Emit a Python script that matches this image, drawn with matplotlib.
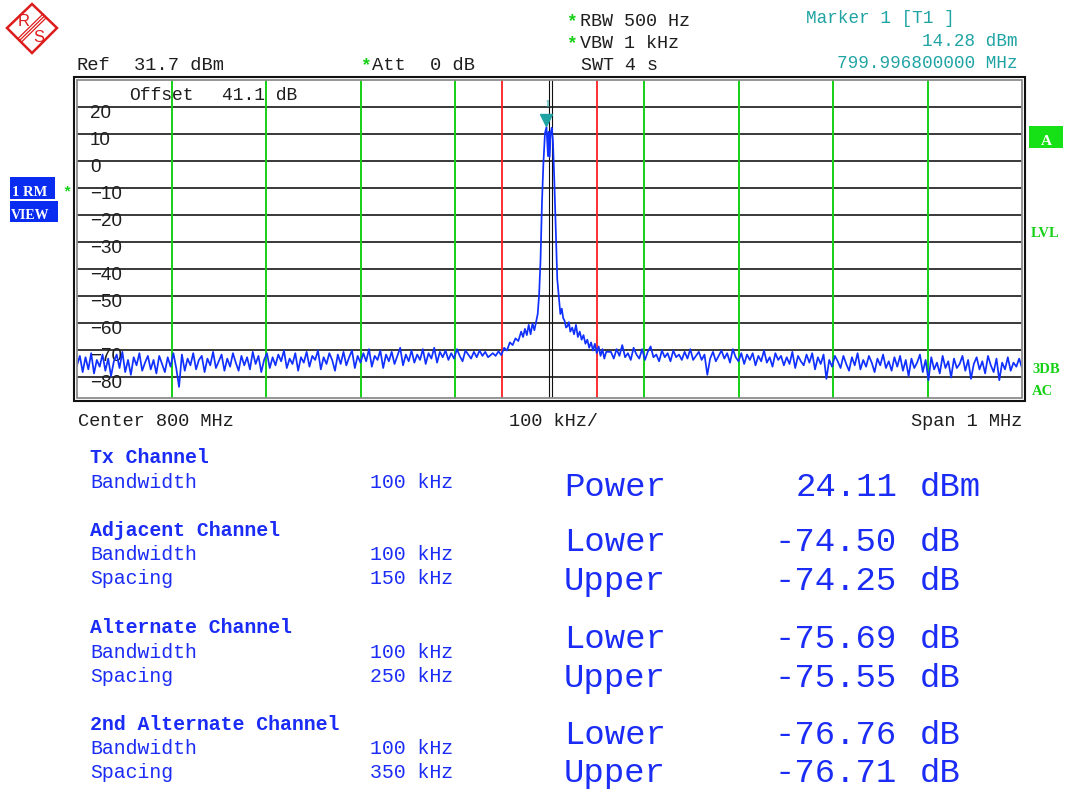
import matplotlib
matplotlib.use("Agg")
import matplotlib.pyplot as plt
import numpy as np
from matplotlib.patches import Rectangle, Polygon
from matplotlib.lines import Line2D
from matplotlib.transforms import offset_copy

W, H = 1067, 789

# -----------------------------------------------------------------------
# Analyzer settings / readings
# -----------------------------------------------------------------------
REF_LEVEL = 31.7          # dBm, top of screen
BOTTOM_LEVEL = -86.1      # dBm, bottom of visible screen
SPAN_KHZ = 1000.0
Y_LABELS = [20, 10, 0, -10, -20, -30, -40, -50, -60, -70, -80]

TX_EDGES = [-50, 50]                                   # red channel lines
ADJ_EDGES = [-400, -300, -200, -100, 100, 200, 300, 400]  # green channel lines
CENTER_LINES = [-0.2, 2.3]

MARKER_F = -3.2           # kHz from centre (799.9968 MHz)
MARKER_DB = 14.28

# noise floor left of carrier, -500 .. -65 kHz, 3 kHz steps
left_floor_db = [
    -74.0, -70.5, -76.5, -71.0, -75.5, -69.5, -77.0, -72.0, -74.5, -70.0,
    -76.0, -71.5, -78.0, -72.5, -70.0, -75.0, -69.0, -76.5, -72.0, -77.5,
    -71.0, -74.0, -69.5, -76.0, -73.0, -70.5, -75.5, -72.0, -77.0, -70.5,
    -73.5, -76.5, -71.0, -74.5, -69.5, -75.0, -82.0, -70.0, -76.0, -71.5,
    -74.0, -69.5, -75.5, -72.0, -70.5, -76.5, -71.5, -74.0, -69.0, -75.0,
    -72.5, -70.0, -76.0, -71.5, -74.5, -69.5, -73.0, -76.0, -70.5, -74.0,
    -71.0, -75.5, -69.0, -73.5, -70.5, -76.5, -72.0, -69.5, -75.0, -71.0,
    -74.0, -70.0, -72.5, -68.5, -75.0, -71.5, -73.5, -69.5, -76.0, -71.0,
    -73.0, -69.0, -74.5, -70.5, -72.0, -68.5, -75.5, -71.0, -73.5, -69.5,
    -72.0, -76.0, -70.0, -73.5, -69.0, -74.0, -71.0, -68.5, -75.0, -70.5,
    -73.0, -69.5, -72.5, -68.0, -74.5, -70.5, -72.0, -68.5, -75.0, -70.0,
    -72.5, -69.0, -73.5, -70.5, -67.5, -74.0, -70.0, -72.5, -68.5, -73.0,
    -70.0, -72.0, -68.0, -73.5, -69.5, -71.5, -67.5, -73.0, -69.0, -71.0,
    -68.5, -72.0, -69.5, -71.5, -68.0, -70.5, -72.5, -68.5, -70.0, -71.5,
    -69.0, -71.0, -68.5, -70.5, -69.0, -71.0,
]

# carrier and skirts, explicit frequencies (kHz)
carrier_f = [
    -60, -57, -54, -51, -48, -45, -42, -39, -36, -33, -30, -28, -26, -24,
    -22, -20, -18, -16, -14, -12.5, -11, -9.5, -8, -6.5, -4.8, -3.2, -1.6,
    -0.8, 0.2, 1.2, 2.4, 3.6, 5.0, 6.6, 8.2, 10.0, 11.5, 13.0, 14.5, 16.0,
    17.5, 19.0, 20.5, 22.0, 24.0, 26.0, 28.0, 30.0, 32.0, 34.0, 36.0, 38.0,
    40.0, 42.0, 44.0, 46.0, 48.0, 50.0, 52.0, 54.0, 56.0, 58.0, 60.0,
]
carrier_db = [
    -69.5, -70.5, -68.8, -70.2, -67.5, -68.5, -65.5, -66.5, -64.0, -65.0,
    -61.5, -63.5, -60.5, -62.8, -59.0, -62.5, -58.5, -61.0, -57.5, -55.0,
    -48.0, -35.0, -14.0, 0.5, 12.0, 14.28, 3.5, 12.5, 3.2, 12.0, 14.0, 9.5,
    -4.5, -23.0, -42.0, -49.0, -55.0, -53.0, -56.5, -57.5, -60.0, -59.5,
    -58.0, -61.5, -60.0, -62.5, -59.0, -63.5, -61.5, -64.5, -62.8, -66.0,
    -64.5, -67.5, -65.5, -68.5, -66.0, -69.5, -67.0, -70.5, -68.0, -71.5,
    -69.0,
]

# noise floor right of carrier, 65 .. 500 kHz, 3 kHz steps
right_floor_db = [
    -69.0, -71.5, -68.0, -70.5, -66.5, -71.0, -69.5, -72.0, -67.5, -70.0,
    -71.5, -68.0, -72.0, -69.0, -67.0, -71.0, -70.0, -72.5, -68.5, -71.0,
    -69.5, -72.5, -68.5, -71.0, -70.0, -72.0, -69.0, -71.5, -68.0, -72.0,
    -70.5, -69.0, -72.0, -70.0, -77.5, -71.5, -69.0, -72.5, -70.5, -68.5,
    -71.5, -69.5, -73.0, -68.0, -71.0, -72.5, -69.5, -73.5, -70.0, -72.0,
    -69.5, -74.0, -70.5, -72.5, -68.5, -73.0, -71.0, -74.5, -69.5, -72.0,
    -70.5, -74.0, -71.0, -73.5, -69.0, -75.0, -70.5, -72.5, -74.0, -70.0,
    -73.0, -69.5, -75.5, -71.0, -73.5, -70.0, -79.0, -72.0, -74.5, -70.5,
    -72.5, -75.0, -70.5, -73.5, -76.0, -71.0, -74.0, -69.5, -75.5, -72.0,
    -74.5, -70.5, -73.0, -76.5, -71.5, -74.0, -70.0, -75.0, -72.5, -76.0,
    -71.0, -74.5, -70.5, -76.0, -72.0, -78.0, -71.5, -75.0, -73.0, -70.0,
    -76.5, -72.0, -79.5, -71.0, -75.5, -73.0, -77.0, -70.5, -75.0, -72.5,
    -78.5, -71.5, -75.0, -73.5, -70.5, -76.0, -72.0, -79.0, -73.5, -71.0,
    -75.5, -72.5, -77.0, -70.5, -74.0, -76.5, -71.5, -79.5, -73.0, -75.5,
    -71.0, -76.0, -73.0, -74.5, -71.5, -75.0,
]

# ACP table
channel_names = ["Tx Channel", "Adjacent Channel", "Alternate Channel",
                 "2nd Alternate Channel"]
channel_bw = ["100 kHz", "100 kHz", "100 kHz", "100 kHz"]
channel_spacing = [None, "150 kHz", "250 kHz", "350 kHz"]
tx_power_dbm = 24.11
lower_db = [-74.50, -75.69, -76.76]
upper_db = [-74.25, -75.55, -76.71]

# -----------------------------------------------------------------------
# Colours / fonts
# -----------------------------------------------------------------------
TRACE = "#1030ff"
TXT = "#1e1e1e"
BLUE_TXT = "#1a2cf5"
TEAL = "#1fa3a3"
GREEN = "#16d016"
RED = "#ff2020"
MONO = "Liberation Mono"
SANS = "Liberation Sans"
SERIF = "Liberation Serif"


def fx(x):
    return x / W


def fy(y):
    return 1 - y / H


fig = plt.figure(figsize=(W / 100, H / 100), dpi=100)
fig.patch.set_facecolor("white")


def ftext(x, y, s, **kw):
    kw.setdefault("va", "baseline")
    kw.setdefault("family", MONO)
    kw.setdefault("color", TXT)
    fig.text(fx(x), fy(y), s, **kw)


# ---- screen area -------------------------------------------------------
X0, X1, Y0, Y1 = 77, 1022, 80, 398
ax = fig.add_axes([fx(X0), fy(Y1), (X1 - X0) / W, (Y1 - Y0) / H])
ax.set_xlim(-SPAN_KHZ / 2, SPAN_KHZ / 2)
ax.set_ylim(BOTTOM_LEVEL, REF_LEVEL)
ax.set_xticks([]); ax.set_yticks([])
for sp in ax.spines.values():
    sp.set_visible(False)

for k in range(1, 12):
    ax.axhline(REF_LEVEL - 10 * k, color="#2a2a2a", lw=1.3, zorder=1)

for f in ADJ_EDGES:
    ax.axvline(f, color=GREEN, lw=1.4, zorder=2)
for f in TX_EDGES:
    ax.axvline(f, color=RED, lw=1.3, zorder=2)
for f in CENTER_LINES:
    ax.axvline(f, color="#101010", lw=0.8, zorder=2)

# frame: grey inner line, black outer line
ax.add_patch(Rectangle((0, 0), 1, 1, transform=ax.transAxes, fill=False,
                       ec="#8c8c8c", lw=1.3, clip_on=False, zorder=5))
fig.patches.append(Rectangle((fx(74), fy(401)), fx(1025) - fx(74),
                             fy(77) - fy(401), transform=fig.transFigure,
                             fill=False, ec="#111111", lw=1.5))

ylab_tr = offset_copy(ax.get_yaxis_transform(), fig=fig, x=0, y=-1.5,
                      units="points")
for v in Y_LABELS:
    ax.text(13 / (X1 - X0), v, f"{v}".replace("-", "\u2212"),
            transform=ylab_tr, family=SANS, fontsize=13.5, color=TXT,
            va="center", ha="left", zorder=3)

# trace
left_f = np.linspace(-500, -65, len(left_floor_db))
right_f = np.linspace(65, 500, len(right_floor_db))
trace_f = np.concatenate([left_f, carrier_f, right_f])
trace_db = np.concatenate([left_floor_db, carrier_db, right_floor_db])
ax.plot(trace_f, trace_db, color=TRACE, lw=1.25, zorder=4)

# marker 1
mk_tr = offset_copy(ax.transData, fig=fig, x=0, y=5, units="points")
ax.plot([MARKER_F], [MARKER_DB], marker="v", ms=8, color=TEAL,
        transform=mk_tr, zorder=6, clip_on=False)
num_tr = offset_copy(ax.transData, fig=fig, x=1, y=13, units="points")
ax.text(MARKER_F, MARKER_DB, "1", transform=num_tr, color=TEAL,
        family=SERIF, fontsize=8, ha="center", va="bottom", zorder=6)

ftext(129, 100, "Offset", fontsize=13)
ftext(222, 100, "41.1 dB", fontsize=13)

# ---- header ------------------------------------------------------------
ftext(77, 70.5, "Ref", fontsize=13.5)
ftext(134, 70.5, "31.7 dBm", fontsize=13.5)
ftext(360, 70, "*", fontsize=13, color=GREEN, weight="bold")
ftext(372, 70, "Att", fontsize=13.5)
ftext(430, 70, "0 dB", fontsize=13.5)
ftext(566, 26, "*", fontsize=13, color=GREEN, weight="bold")
ftext(580, 26, "RBW 500 Hz", fontsize=13.2)
ftext(566, 48, "*", fontsize=13, color=GREEN, weight="bold")
ftext(580, 48, "VBW 1 kHz", fontsize=13.2)
ftext(581, 70, "SWT 4 s", fontsize=13.2)
ftext(806, 23, "Marker 1 [T1 ]", fontsize=12.7, color=TEAL)
ftext(1018, 46, f"{MARKER_DB:.2f} dBm", fontsize=12.7, color=TEAL, ha="right")
marker_mhz = 800.0 + MARKER_F / 1000.0
ftext(1018, 68.5, f"{marker_mhz:.9f} MHz", fontsize=12.7, color=TEAL,
      ha="right")

ftext(78, 426.5, "Center 800 MHz", fontsize=13.4)
ftext(509, 426.5, "100 kHz/", fontsize=13.4)
ftext(1022, 426.5, "Span 1 MHz", fontsize=13.4, ha="right")

# ---- side annotations --------------------------------------------------
fig.patches.append(Rectangle((fx(10), fy(199)), fx(45), fy(177) - fy(199),
                             transform=fig.transFigure, fc="#0a2cf0", ec="none"))
fig.patches.append(Rectangle((fx(10), fy(222)), fx(48), fy(200.5) - fy(222),
                             transform=fig.transFigure, fc="#0a2cf0", ec="none"))
ftext(12, 196, "1 RM", fontsize=10.5, family=SERIF, weight="bold", color="white")
ftext(11, 219, "VIEW", fontsize=10, family=SERIF, weight="bold", color="white")
ftext(62, 196, "*", fontsize=11, color=GREEN, weight="bold")

fig.patches.append(Rectangle((fx(1029), fy(148)), fx(34), fy(126) - fy(148),
                             transform=fig.transFigure, fc="#16e016", ec="none"))
ftext(1046, 145, "A", fontsize=11, family=SERIF, weight="bold",
      color="white", ha="center")
ftext(1031, 237, "LVL", fontsize=10.5, family=SERIF, weight="bold", color=GREEN)
ftext(1032, 373, "3DB", fontsize=10.5, family=SERIF, weight="bold", color=GREEN)
ftext(1032, 395, "AC", fontsize=10.5, family=SERIF, weight="bold", color=GREEN)

# ---- logo --------------------------------------------------------------
LOGO_RED = "#dd1c1c"
diamond = [(7, 28), (32, 4), (57, 28), (32, 53)]
fig.patches.append(Polygon([(fx(a), fy(b)) for a, b in diamond], closed=True,
                           transform=fig.transFigure, fc="white",
                           ec=LOGO_RED, lw=1.8))
for d in (-2.5, 0, 2.5):
    ox, oy = 0.62 * d, 0.78 * d
    fig.lines.append(Line2D([fx(19.5 + ox), fx(44.5 + ox)],
                            [fy(40.5 + oy), fy(16 + oy)],
                            transform=fig.transFigure, color=LOGO_RED, lw=0.9))
ftext(24, 21, "R", fontsize=12, family=SANS, color=LOGO_RED, ha="center",
      va="center")
ftext(39, 37, "S", fontsize=12, family=SANS, color=LOGO_RED, ha="center",
      va="center")

# ---- ACP table ---------------------------------------------------------
head_y = [463, 536, 633, 730]
for i, name in enumerate(channel_names):
    y = head_y[i]
    ftext(90, y, name, fontsize=14.3, color=BLUE_TXT, weight="bold")
    ftext(90, y + 24.5, "Bandwidth", fontsize=14.3, color=BLUE_TXT)
    ftext(370, y + 24.5, channel_bw[i], fontsize=14.3, color=BLUE_TXT)
    if channel_spacing[i]:
        ftext(90, y + 48.5, "Spacing", fontsize=14.3, color=BLUE_TXT)
        ftext(370, y + 48.5, channel_spacing[i], fontsize=14.3, color=BLUE_TXT)

BIG = 24.5
ftext(564, 496, "Power", fontsize=BIG, color=BLUE_TXT)
ftext(897, 496, f"{tx_power_dbm:.2f}", fontsize=BIG, color=BLUE_TXT, ha="right")
ftext(920, 496, "dBm", fontsize=BIG, color=BLUE_TXT)
row_y = [(551, 590), (648, 687), (744, 782)]
for (yl, yu), lo, up in zip(row_y, lower_db, upper_db):
    ftext(564, yl, "Lower", fontsize=BIG, color=BLUE_TXT)
    ftext(897, yl, f"{lo:.2f}", fontsize=BIG, color=BLUE_TXT, ha="right")
    ftext(920, yl, "dB", fontsize=BIG, color=BLUE_TXT)
    ftext(564, yu, "Upper", fontsize=BIG, color=BLUE_TXT)
    ftext(897, yu, f"{up:.2f}", fontsize=BIG, color=BLUE_TXT, ha="right")
    ftext(920, yu, "dB", fontsize=BIG, color=BLUE_TXT)

fig.savefig("out.png", dpi=100, facecolor="white")
plt.close(fig)
